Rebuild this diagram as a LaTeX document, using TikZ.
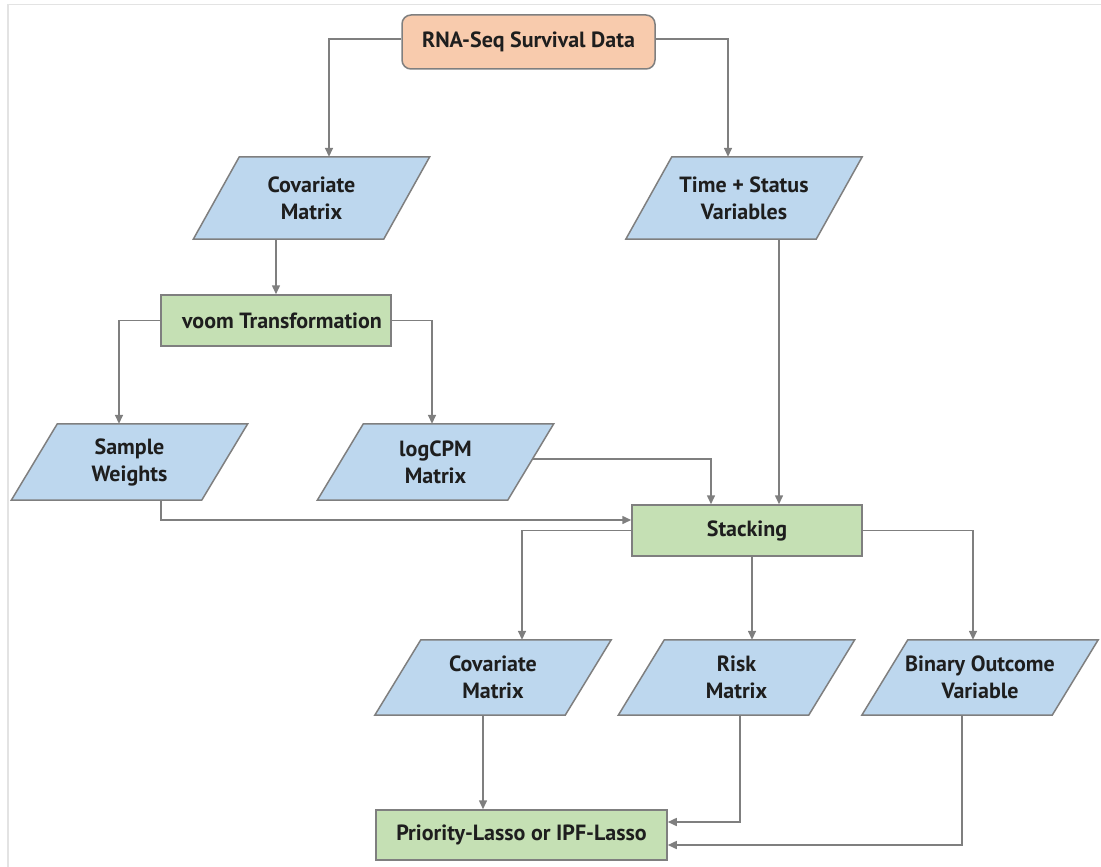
\documentclass[tikz,border=0pt]{standalone}
\usepackage{fontspec}
\setmainfont{PT Sans}
\usetikzlibrary{arrows.meta,backgrounds,calc}

\definecolor{edgegray}{HTML}{7F7F7F}
\definecolor{framegray}{HTML}{E3E3E3}
\definecolor{inkdark}{HTML}{1E1E1E}
\definecolor{peachfill}{HTML}{F8CBAD}
\definecolor{bluefill}{HTML}{BDD7EE}
\definecolor{greenfill}{HTML}{C5E0B4}

% slanted data box drawn behind a named text node
\newcommand\slantbox[2][46]{%
  \path[datashape] ([xshift=#1pt]#2.north west) -- (#2.north east)
    -- ([xshift=-#1pt]#2.south east) -- (#2.south west) -- cycle;}

\begin{document}
\begin{tikzpicture}[x=1pt,y=-1pt,
  label text/.style={inner sep=0pt, align=center, text=inkdark,
    font=\bfseries\fontsize{22}{27}\selectfont},
  startbox/.style={label text, draw=edgegray, line width=1.5pt, fill=peachfill,
    rounded corners=9pt, minimum width=253pt, minimum height=54pt},
  procbox/.style={label text, draw=edgegray, line width=1.5pt, fill=greenfill,
    minimum width=230pt, minimum height=51pt},
  databox/.style={label text, minimum width=236pt, minimum height=#1},
  databox/.default=76pt,
  datashape/.style={draw=edgegray, line width=1.5pt, fill=bluefill},
  arr/.style={draw=edgegray, line width=1.5pt, -{Triangle[length=9pt,width=8pt]}}]

\useasboundingbox (0,0) rectangle (1101,867);

% page frame
\draw[framegray, line width=1.5pt] (1101,4.5) -- (8,4.5) -- (8,867);

% nodes
\node[startbox] (rna) at (528.5,42) {RNA-Seq Survival Data};
\node[databox=82pt] (cov1) at (311.5,198) {Covariate\\Matrix};
\node[databox=82pt] (ts) at (744,198) {Time + Status\\Variables};
\node[procbox] (voom) at (276,320.5) {\hspace*{12pt}voom Transformation};
\node[databox] (sw) at (129.5,462) {Sample\\Weights};
\node[databox] (log) at (435.5,462) {logCPM\\Matrix};
\node[procbox] (stack) at (747,530.5) {Stacking};
\node[databox=75pt] (cov2) at (493,677.5) {Covariate\\Matrix};
\node[databox=75pt] (risk) at (736.5,677.5) {Risk\\Matrix};
\node[databox=75pt] (bin) at (980,677.5) {Binary Outcome\\Variable};
\node[procbox, minimum width=291pt, minimum height=50pt] (prio) at (521.5,835)
  {Priority-Lasso or IPF-Lasso};

\begin{scope}[on background layer]
  \slantbox{cov1}
  \slantbox{ts}
  \slantbox{sw}
  \slantbox{log}
  \slantbox{cov2}
  \slantbox{risk}
  \slantbox{bin}
\end{scope}

\coordinate (logR) at ($(log.north east)!0.46!([xshift=-46pt]log.south east)$);

% connectors
\draw[arr] ([yshift=3pt]rna.west) -| ([xshift=17.5pt]cov1.north);
\draw[arr] ([yshift=3pt]rna.east) -| ([xshift=-16pt]ts.north);
\draw[arr] (cov1.south -| voom.north) -- (voom.north);
\draw[arr] (voom.west) -| ([xshift=-10.5pt]sw.north);
\draw[arr] (voom.east) -| ([xshift=-3.5pt]log.north);
\draw[arr] (logR) -| ([xshift=-36pt]stack.north);
\draw[arr] ([xshift=35pt]ts.south) -- ([xshift=32pt]stack.north);
\draw[arr] ([xshift=31.5pt]sw.south) |- ([yshift=10.5pt]stack.west);
\draw[arr] (stack.west) -| ([xshift=29pt]cov2.north);
\draw[arr] ([xshift=5pt]stack.south) -- ([xshift=15.5pt]risk.north);
\draw[arr] (stack.east) -| ([xshift=-7pt]bin.north);
\draw[arr] ([xshift=-10pt]cov2.south) -- ([xshift=-38.5pt]prio.north);
\draw[arr] ([xshift=3.5pt]risk.south) |- ([yshift=13pt]prio.east);
\draw[arr] ([xshift=-18pt]bin.south) |- ([yshift=-10pt]prio.east);
\end{tikzpicture}
\end{document}
